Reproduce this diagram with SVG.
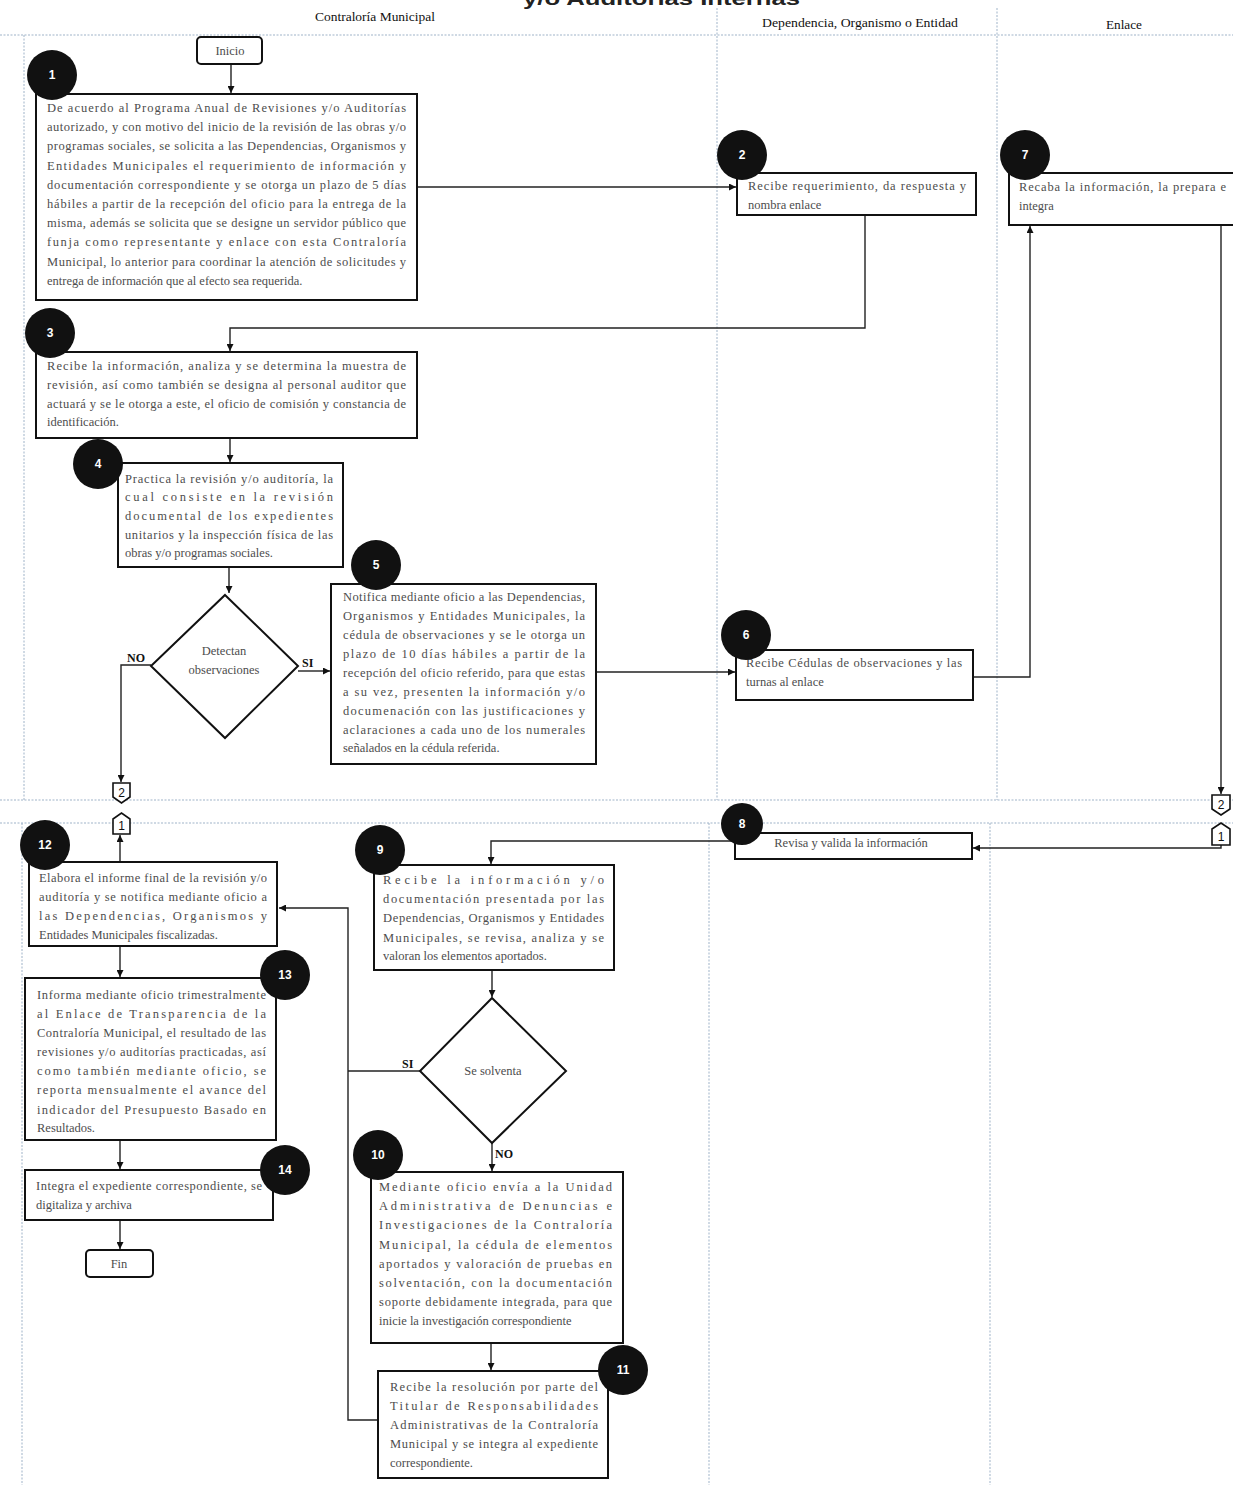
<svg xmlns="http://www.w3.org/2000/svg" width="1233" height="1485" viewBox="0 0 1233 1485">
<defs>
<marker id="ah" viewBox="0 0 10 10" refX="10" refY="5" markerWidth="7" markerHeight="7" orient="auto-start-reverse" markerUnits="userSpaceOnUse">
<path d="M0,0 L10,5 L0,10 z" fill="#111"/>
</marker>
<style>
.lane{stroke:#9fb3c8;stroke-width:1;stroke-dasharray:2 1.5;fill:none}
.hdr{font-family:"Liberation Serif",serif;font-size:12px;fill:#111}
.box{fill:#fff;stroke:#111;stroke-width:2}
.term{fill:#fff;stroke:#111;stroke-width:2}
.dia{fill:#fff;stroke:#111;stroke-width:2}
.t{font-family:"Liberation Serif",serif;font-size:12.5px;fill:#4d4d4d}
.tc{font-family:"Liberation Serif",serif;font-size:12.5px;fill:#4d4d4d;text-anchor:middle}
.num{fill:#111}
.nt{font-family:"Liberation Sans",sans-serif;font-size:12px;font-weight:bold;fill:#fff;text-anchor:middle}
.lbl{font-family:"Liberation Serif",serif;font-size:12px;font-weight:bold;fill:#111}
.c{fill:none;stroke:#222;stroke-width:1.4}
.off{fill:#fff;stroke:#111;stroke-width:1.6}
.offt{font-family:"Liberation Sans",sans-serif;font-size:12px;fill:#111;text-anchor:middle}
</style>
</defs>
<rect width="1233" height="1485" fill="#fff"/>
<text x="523" y="5" font-family="Liberation Sans,sans-serif" font-size="19" font-weight="bold" fill="#222" textLength="277" lengthAdjust="spacingAndGlyphs">y/o Auditorías Internas</text>

<g id="lanes">
<line class="lane" x1="0" y1="35" x2="1233" y2="35"/>
<line class="lane" x1="24" y1="35" x2="24" y2="800"/>
<line class="lane" x1="717" y1="8" x2="717" y2="800"/>
<line class="lane" x1="997" y1="8" x2="997" y2="800"/>
<line class="lane" x1="0" y1="800" x2="1233" y2="800"/>
<line class="lane" x1="0" y1="823" x2="1233" y2="823"/>
<line class="lane" x1="22" y1="823" x2="22" y2="1485"/>
<line class="lane" x1="709" y1="823" x2="709" y2="1485"/>
<line class="lane" x1="990" y1="823" x2="990" y2="1485"/>
<text class="hdr" x="315" y="21" textLength="120" lengthAdjust="spacingAndGlyphs">Contraloría Municipal</text>
<text class="hdr" x="762" y="27" textLength="196" lengthAdjust="spacingAndGlyphs">Dependencia, Organismo o Entidad</text>
<text class="hdr" x="1106" y="29" textLength="36" lengthAdjust="spacingAndGlyphs">Enlace</text>
</g>

<g id="connectors">
<line class="c" x1="231" y1="64" x2="231" y2="93" marker-end="url(#ah)"/>
<line class="c" x1="417" y1="187" x2="736" y2="187" marker-end="url(#ah)"/>
<path class="c" d="M865,215 V328 H230 V351" marker-end="url(#ah)"/>
<line class="c" x1="230" y1="438" x2="230" y2="462" marker-end="url(#ah)"/>
<line class="c" x1="229" y1="567" x2="229" y2="593" marker-end="url(#ah)"/>
<line class="c" x1="298" y1="671" x2="330" y2="671" marker-end="url(#ah)"/>
<path class="c" d="M151,665 H121 V782" marker-end="url(#ah)"/>
<line class="c" x1="596" y1="672" x2="735" y2="672" marker-end="url(#ah)"/>
<path class="c" d="M973,677 H1030 V226" marker-end="url(#ah)"/>
<path class="c" d="M1221,225 V794" marker-end="url(#ah)"/>
<path class="c" d="M1221,845 V848 H973" marker-end="url(#ah)"/>
<path class="c" d="M735,841 H491 V864" marker-end="url(#ah)"/>
<line class="c" x1="120" y1="862" x2="120" y2="835" marker-end="url(#ah)"/>
<line class="c" x1="492" y1="970" x2="492" y2="997" marker-end="url(#ah)"/>
<path class="c" d="M420,1071 H348"/>
<path class="c" d="M378,1420 H348 V908 H279" marker-end="url(#ah)"/>
<line class="c" x1="492" y1="1143" x2="492" y2="1171" marker-end="url(#ah)"/>
<line class="c" x1="491" y1="1343" x2="491" y2="1370" marker-end="url(#ah)"/>
<line class="c" x1="120" y1="946" x2="120" y2="977" marker-end="url(#ah)"/>
<line class="c" x1="120" y1="1140" x2="120" y2="1169" marker-end="url(#ah)"/>
<line class="c" x1="120" y1="1220" x2="120" y2="1249" marker-end="url(#ah)"/>
<text class="lbl" x="127" y="662">NO</text>
<text class="lbl" x="302" y="667">SI</text>
<text class="lbl" x="402" y="1068">SI</text>
<text class="lbl" x="495" y="1158">NO</text>
</g>

<g id="off2L"><path class="off" d="M113,783 H130 V797 L121.5,803 L113,797 Z"/><text class="offt" x="121.5" y="797">2</text></g>
<g id="off1L"><path class="off" d="M113,819 L121.5,813 L130,819 V834 H113 Z"/><text class="offt" x="121.5" y="830">1</text></g>
<g id="off2R"><path class="off" d="M1212,795 H1230 V809 L1221,815 L1212,809 Z"/><text class="offt" x="1221" y="809">2</text></g>
<g id="off1R"><path class="off" d="M1212,829 L1221,823 L1230,829 V845 H1212 Z"/><text class="offt" x="1221" y="841">1</text></g>

<g id="inicio"><rect class="term" x="197" y="37" width="65" height="27" rx="4"/><text class="tc" x="230" y="55">Inicio</text></g>

<g id="n1">
<rect class="box" x="36" y="94" width="381" height="206"/>
<text class="t" x="47" y="112" textLength="359" lengthAdjust="spacing">De acuerdo al Programa Anual de Revisiones y/o Auditorías</text>
<text class="t" x="47" y="131" textLength="359" lengthAdjust="spacing">autorizado, y con motivo del inicio de la revisión de las obras y/o</text>
<text class="t" x="47" y="150" textLength="359" lengthAdjust="spacing">programas sociales, se solicita a las Dependencias, Organismos y</text>
<text class="t" x="47" y="170" textLength="359" lengthAdjust="spacing">Entidades Municipales el requerimiento de información y</text>
<text class="t" x="47" y="189" textLength="359" lengthAdjust="spacing">documentación correspondiente y se otorga un plazo de 5 días</text>
<text class="t" x="47" y="208" textLength="359" lengthAdjust="spacing">hábiles a partir de la recepción del oficio para la entrega de la</text>
<text class="t" x="47" y="227" textLength="359" lengthAdjust="spacing">misma, además se solicita que se designe un servidor público que</text>
<text class="t" x="47" y="246" textLength="359" lengthAdjust="spacing">funja como representante y enlace con esta Contraloría</text>
<text class="t" x="47" y="266" textLength="359" lengthAdjust="spacing">Municipal, lo anterior para coordinar la atención de solicitudes y</text>
<text class="t" x="47" y="285">entrega de información que al efecto sea requerida.</text>
<circle class="num" cx="52" cy="75" r="25"/><text class="nt" x="52" y="79">1</text>
</g>

<g id="n2">
<rect class="box" x="737" y="173" width="239" height="42"/>
<text class="t" x="748" y="190" textLength="218" lengthAdjust="spacing">Recibe requerimiento, da respuesta y</text>
<text class="t" x="748" y="209">nombra enlace</text>
<circle class="num" cx="742" cy="155" r="25"/><text class="nt" x="742" y="159">2</text>
</g>

<g id="n7">
<rect class="box" x="1009" y="173" width="240" height="52"/>
<text class="t" x="1019" y="191" textLength="207" lengthAdjust="spacing">Recaba la información, la prepara e</text>
<text class="t" x="1019" y="210">integra</text>
<circle class="num" cx="1025" cy="155" r="25"/><text class="nt" x="1025" y="159">7</text>
</g>

<g id="n3">
<rect class="box" x="36" y="352" width="381" height="86"/>
<text class="t" x="47" y="370" textLength="359" lengthAdjust="spacing">Recibe la información, analiza y se determina la muestra de</text>
<text class="t" x="47" y="389" textLength="359" lengthAdjust="spacing">revisión, así como también se designa al personal auditor que</text>
<text class="t" x="47" y="408" textLength="359" lengthAdjust="spacing">actuará y se le otorga a este, el oficio de comisión y constancia de</text>
<text class="t" x="47" y="426">identificación.</text>
<circle class="num" cx="50" cy="333" r="25"/><text class="nt" x="50" y="337">3</text>
</g>

<g id="n4">
<rect class="box" x="118" y="463" width="225" height="104"/>
<text class="t" x="125" y="483" textLength="208" lengthAdjust="spacing">Practica la revisión y/o auditoría, la</text>
<text class="t" x="125" y="501" textLength="208" lengthAdjust="spacing">cual consiste en la revisión</text>
<text class="t" x="125" y="520" textLength="208" lengthAdjust="spacing">documental de los expedientes</text>
<text class="t" x="125" y="539" textLength="208" lengthAdjust="spacing">unitarios y la inspección física de las</text>
<text class="t" x="125" y="557">obras y/o programas sociales.</text>
<circle class="num" cx="98" cy="464" r="25"/><text class="nt" x="98" y="468">4</text>
</g>

<g id="d1">
<path class="dia" d="M225,595 L298,666 L225,738 L151,666 Z"/>
<text class="tc" x="224" y="655">Detectan</text>
<text class="tc" x="224" y="674">observaciones</text>
</g>

<g id="n5">
<rect class="box" x="331" y="584" width="265" height="180"/>
<text class="t" x="343" y="601" textLength="242" lengthAdjust="spacing">Notifica mediante oficio a las Dependencias,</text>
<text class="t" x="343" y="620" textLength="242" lengthAdjust="spacing">Organismos y Entidades Municipales, la</text>
<text class="t" x="343" y="639" textLength="242" lengthAdjust="spacing">cédula de observaciones y se le otorga un</text>
<text class="t" x="343" y="658" textLength="242" lengthAdjust="spacing">plazo de 10 días hábiles a partir de la</text>
<text class="t" x="343" y="677" textLength="242" lengthAdjust="spacing">recepción del oficio referido, para que estas</text>
<text class="t" x="343" y="696" textLength="242" lengthAdjust="spacing">a su vez, presenten la información y/o</text>
<text class="t" x="343" y="715" textLength="242" lengthAdjust="spacing">documenación con las justificaciones y</text>
<text class="t" x="343" y="734" textLength="242" lengthAdjust="spacing">aclaraciones a cada uno de los numerales</text>
<text class="t" x="343" y="752">señalados en la cédula referida.</text>
<circle class="num" cx="376" cy="565" r="25"/><text class="nt" x="376" y="569">5</text>
</g>

<g id="n6">
<rect class="box" x="736" y="650" width="237" height="50"/>
<text class="t" x="746" y="667" textLength="216" lengthAdjust="spacing">Recibe Cédulas de observaciones y las</text>
<text class="t" x="746" y="686">turnas al enlace</text>
<circle class="num" cx="746" cy="635" r="25"/><text class="nt" x="746" y="639">6</text>
</g>

<g id="n8">
<rect class="box" x="735" y="833" width="237" height="26"/>
<text class="tc" x="851" y="847">Revisa y valida la información</text>
<circle class="num" cx="742" cy="824" r="21"/><text class="nt" x="742" y="828">8</text>
</g>

<g id="n9">
<rect class="box" x="374" y="865" width="240" height="105"/>
<text class="t" x="383" y="884" textLength="221" lengthAdjust="spacing">Recibe la información y/o</text>
<text class="t" x="383" y="903" textLength="221" lengthAdjust="spacing">documentación presentada por las</text>
<text class="t" x="383" y="922" textLength="221" lengthAdjust="spacing">Dependencias, Organismos y Entidades</text>
<text class="t" x="383" y="942" textLength="221" lengthAdjust="spacing">Municipales, se revisa, analiza y se</text>
<text class="t" x="383" y="960">valoran los elementos aportados.</text>
<circle class="num" cx="380" cy="850" r="25"/><text class="nt" x="380" y="854">9</text>
</g>

<g id="d2">
<path class="dia" d="M492,998 L566,1071 L492,1143 L420,1071 Z"/>
<text class="tc" x="493" y="1075">Se solventa</text>
</g>

<g id="n10">
<rect class="box" x="371" y="1172" width="252" height="171"/>
<text class="t" x="379" y="1191" textLength="233" lengthAdjust="spacing">Mediante oficio envía a la Unidad</text>
<text class="t" x="379" y="1210" textLength="233" lengthAdjust="spacing">Administrativa de Denuncias e</text>
<text class="t" x="379" y="1229" textLength="233" lengthAdjust="spacing">Investigaciones de la Contraloría</text>
<text class="t" x="379" y="1249" textLength="233" lengthAdjust="spacing">Municipal, la cédula de elementos</text>
<text class="t" x="379" y="1268" textLength="233" lengthAdjust="spacing">aportados y valoración de pruebas en</text>
<text class="t" x="379" y="1287" textLength="233" lengthAdjust="spacing">solventación, con la documentación</text>
<text class="t" x="379" y="1306" textLength="233" lengthAdjust="spacing">soporte debidamente integrada, para que</text>
<text class="t" x="379" y="1325">inicie la investigación correspondiente</text>
<circle class="num" cx="378" cy="1155" r="25"/><text class="nt" x="378" y="1159">10</text>
</g>

<g id="n11">
<rect class="box" x="378" y="1371" width="230" height="107"/>
<text class="t" x="390" y="1391" textLength="208" lengthAdjust="spacing">Recibe la resolución por parte del</text>
<text class="t" x="390" y="1410" textLength="208" lengthAdjust="spacing">Titular de Responsabilidades</text>
<text class="t" x="390" y="1429" textLength="208" lengthAdjust="spacing">Administrativas de la Contraloría</text>
<text class="t" x="390" y="1448" textLength="208" lengthAdjust="spacing">Municipal y se integra al expediente</text>
<text class="t" x="390" y="1467">correspondiente.</text>
<circle class="num" cx="623" cy="1370" r="25"/><text class="nt" x="623" y="1374">11</text>
</g>

<g id="n12">
<rect class="box" x="29" y="862" width="248" height="84"/>
<text class="t" x="39" y="882" textLength="228" lengthAdjust="spacing">Elabora el informe final de la revisión y/o</text>
<text class="t" x="39" y="901" textLength="228" lengthAdjust="spacing">auditoría y se notifica mediante oficio a</text>
<text class="t" x="39" y="920" textLength="228" lengthAdjust="spacing">las Dependencias, Organismos y</text>
<text class="t" x="39" y="939">Entidades Municipales fiscalizadas.</text>
<circle class="num" cx="45" cy="845" r="25"/><text class="nt" x="45" y="849">12</text>
</g>

<g id="n13">
<rect class="box" x="25" y="978" width="251" height="162"/>
<text class="t" x="37" y="999" textLength="229" lengthAdjust="spacing">Informa mediante oficio trimestralmente</text>
<text class="t" x="37" y="1018" textLength="229" lengthAdjust="spacing">al Enlace de Transparencia de la</text>
<text class="t" x="37" y="1037" textLength="229" lengthAdjust="spacing">Contraloría Municipal, el resultado de las</text>
<text class="t" x="37" y="1056" textLength="229" lengthAdjust="spacing">revisiones y/o auditorías practicadas, así</text>
<text class="t" x="37" y="1075" textLength="229" lengthAdjust="spacing">como también mediante oficio, se</text>
<text class="t" x="37" y="1094" textLength="229" lengthAdjust="spacing">reporta mensualmente el avance del</text>
<text class="t" x="37" y="1114" textLength="229" lengthAdjust="spacing">indicador del Presupuesto Basado en</text>
<text class="t" x="37" y="1132">Resultados.</text>
<circle class="num" cx="285" cy="975" r="25"/><text class="nt" x="285" y="979">13</text>
</g>

<g id="n14">
<rect class="box" x="25" y="1170" width="248" height="50"/>
<text class="t" x="36" y="1190" textLength="226" lengthAdjust="spacing">Integra el expediente correspondiente, se</text>
<text class="t" x="36" y="1209">digitaliza y archiva</text>
<circle class="num" cx="285" cy="1170" r="25"/><text class="nt" x="285" y="1174">14</text>
</g>

<g id="fin"><rect class="term" x="86" y="1250" width="67" height="27" rx="4"/><text class="tc" x="119" y="1268">Fin</text></g>
</svg>
